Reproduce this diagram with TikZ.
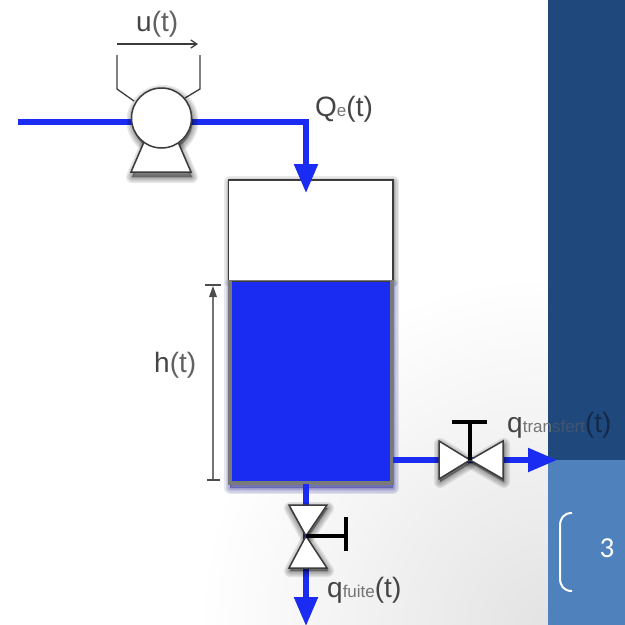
\documentclass[tikz,border=0pt]{standalone}
\usepackage{fontspec}
\setmainfont{Liberation Sans}
\newfontfamily\slidefont{Carlito}
\usetikzlibrary{arrows.meta}
\definecolor{flowblue}{HTML}{1A2CF2}
\definecolor{panelDark}{HTML}{1F497D}
\definecolor{panelLight}{HTML}{4F81BD}
\definecolor{inkgrey}{HTML}{454545}
\definecolor{edgegrey}{HTML}{3C3C3C}
\definecolor{overpanel}{HTML}{14294A}
\pgfdeclareradialshading{cornerglow}{\pgfpoint{0bp}{0bp}}{color(0bp)=(black!11); color(25bp)=(white); color(50bp)=(white)}
\tikzset{
  flow/.style={draw=flowblue,line width=5.4pt,line join=miter},
  flowarrow/.style={flow,-{Triangle[length=29pt,width=23pt,fill=flowblue]}},
  valvepart/.style={draw=edgegrey,fill=white,line width=1.5pt,line join=miter},
  handle/.style={draw=black,line width=3.4pt},
  wire/.style={draw=edgegrey,line width=1.3pt},
  lab/.style={text=inkgrey,inner sep=0pt,anchor=base west,font=\fontsize{28}{28}\selectfont},
}
\newcommand{\smalltxt}[1]{{\fontsize{17}{17}\selectfont\color{inkgrey!75}#1}}
% soft shadow: the same outline, offset, in widening faint strokes
\newcommand{\softshadow}[3]{%
  \foreach \w in {12,9,6,3,1}{%
    \path[draw=#1,fill=#1,opacity=.09,line width=\w pt,line join=round,shift={(1,#2)}] #3;}}
\begin{document}
\begin{tikzpicture}[x=1pt,y=-1pt]
\useasboundingbox (0,0) rectangle (625,625);
% background
\fill[white] (0,0) rectangle (548,625);
\begin{scope}
\clip (0,0) rectangle (548,625);
\path[shading=cornerglow] (198,275) rectangle (898,975);
\end{scope}
\fill[panelDark] (548,0) rectangle (625,460);
\fill[panelLight] (548,460) rectangle (625,625);
\draw[white,line width=2pt] (572,513) .. controls (564,513) and (560,518) .. (560,526) -- (560,578) .. controls (560,586) and (564,591) .. (572,591);
\node[text=white,font=\slidefont\fontsize{29}{29}\selectfont,inner sep=0pt] (pagenum) at (607,548) {3};
% named points
\coordinate (inlet) at (18,122);
\coordinate (bend) at (306,122);
\coordinate (tanktop) at (306,193);
\coordinate (wa) at (117,55);
\coordinate (wb) at (200,55);
\coordinate (xval) at (470,460);
\coordinate (xout) at (557,460);
\coordinate (xstart) at (393,460);
\coordinate (dval) at (306,536);
\coordinate (dstart) at (306,484);
\coordinate (dout) at (306,626);
% tank
\softshadow{black}{1}{(229,181) rectangle (392,280)}
\softshadow{black!50!blue}{4}{(229,281) rectangle (392,484)}
\draw[draw=edgegrey,fill=white,line width=1.5pt] (228.5,180) rectangle (393,484);
\fill[black!52] (228,280) rectangle (393.5,484.5);
\fill[flowblue] (232,281) rectangle (390,481);
\draw[edgegrey,line width=1pt] (232,281) -- (390,281);
% pipes
\draw[flow] (inlet) -- (135,122);
\draw[flowarrow] (188,122) -- (bend) -- (tanktop);
\draw[flowarrow] (xstart) -- (xout);
\draw[flowarrow] (dstart) -- (dout);
% pump
\draw[wire] (wa) -- (117,89) -- (134,101);
\draw[wire] (wb) -- (200,89) -- (185,98);
\draw[-{Straight Barb[length=6pt,width=8pt]},wire] (117,44) -- (198,44);
\softshadow{black}{5}{(144,142) -- (131,172) -- (191,172) -- (178,142) -- cycle}
\softshadow{black}{3}{(161.5,118) circle[radius=30]}
\draw[valvepart] (144,142) -- (131,172) -- (191,172) -- (178,142);
\node[circle,draw=edgegrey,fill=white,line width=1.5pt,minimum size=60pt,inner sep=0pt] (pump) at (161.5,118) {};
% horizontal valve
\softshadow{black}{3}{(470,460) -- (439,441) -- (439,479) -- cycle}
\softshadow{black}{3}{(470,460) -- (503,441) -- (503,479) -- cycle}
\draw[valvepart] (xval) -- (439,441) -- (439,479) -- cycle;
\draw[valvepart] (xval) -- (503,441) -- (503,479) -- cycle;
\draw[handle] (xval) -- (470,423);
\draw[handle] (452,422) -- (487,422);
% vertical valve
\softshadow{black}{3}{(306,536) -- (289,505) -- (327,505) -- cycle}
\softshadow{black}{3}{(306,536) -- (289,568) -- (327,568) -- cycle}
\draw[valvepart] (dval) -- (289,505) -- (327,505) -- cycle;
\draw[valvepart] (dval) -- (289,568) -- (327,568) -- cycle;
\draw[handle] (dval) -- (346,536);
\draw[handle] (346,517) -- (346,551);
% level
\draw[draw=black!55,line width=1.3pt] (213,289) -- (213,480);
\fill[black!70] (213,286) -- (209,297) -- (217,297) -- cycle;
\draw[draw=black!70,line width=1.2pt] (205,285) -- (221,285);
\draw[draw=black!70,line width=1.2pt] (207,480) -- (220,480);
% labels
\node[lab] (lu) at (136,31) {u\textcolor{inkgrey!85}{(t)}};
\node[lab] (lq) at (315,116) {Q\smalltxt{e}(t)};
\node[lab] (lh) at (154,372) {h\textcolor{inkgrey!85}{(t)}};
\node[lab] (lqt) at (507,432) {q\smalltxt{tran}{\fontsize{17}{17}\selectfont\color{overpanel!80}sfert}\textcolor{overpanel}{(t)}};
\node[lab] (lqf) at (327,597) {q\smalltxt{fuite}(t)};
\end{tikzpicture}
\end{document}
